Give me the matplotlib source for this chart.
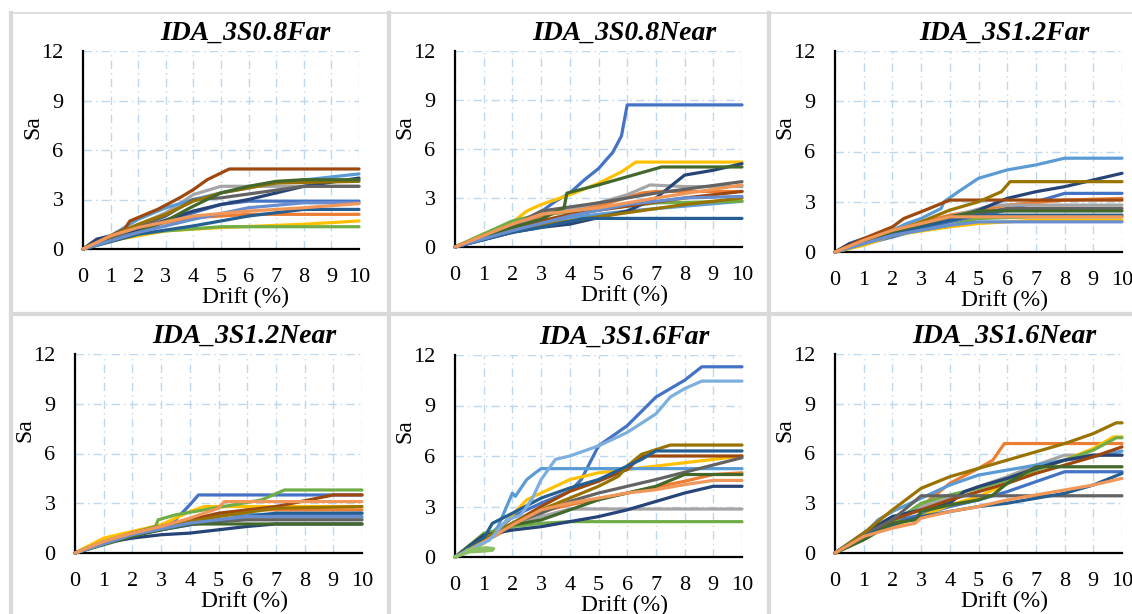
import matplotlib
matplotlib.use('Agg')
import matplotlib.pyplot as plt
from matplotlib.lines import Line2D

# Excel-style series colours (one per ground motion record)
palette = ['#4472C4', '#ED7D31', '#A5A5A5', '#FFC000', '#5B9BD5', '#70AD47',
           '#264478', '#9E480E', '#636363', '#997300', '#255E91', '#43682B',
           '#698ED0', '#F1975A', '#B7B7B7', '#FFCD33', '#7CAFDD', '#8CC168']

titles = ['IDA_3S0.8Far', 'IDA_3S0.8Near', 'IDA_3S1.2Far',
          'IDA_3S1.2Near', 'IDA_3S1.6Far', 'IDA_3S1.6Near']

# ---- IDA_3S0.8Far ----
drift_08far = [
    [0, 2, 4, 5, 6, 10],
    [0, 2, 4, 6, 10],
    [0, 3, 4, 5, 10],
    [0, 1, 3, 5, 8, 10],
    [0, 1, 2, 3, 4, 5, 7, 10],
    [0, 2, 3, 5, 10],
    [0, 0.5, 1, 2, 4, 5, 6, 8, 10],
    [0, 1.5, 1.7, 2.7, 3.5, 4, 4.5, 5.3, 10],
    [0, 3, 4, 5, 8, 10],
    [0, 2, 3, 4, 5, 7, 10],
    [0, 2, 4, 6, 8, 10],
    [0, 2, 3, 4, 5, 6, 7, 8, 10],
    [0, 2, 4, 6, 8, 10],
    [0, 1, 2, 4, 6, 8, 10],
]
sa_08far = [
    [0, 1.1, 2.2, 2.7, 2.9, 2.9],
    [0, 1.3, 1.9, 2.1, 2.1],
    [0, 2.2, 3.3, 3.8, 3.8],
    [0, 0.5, 1.1, 1.3, 1.5, 1.7],
    [0, 0.8, 1.8, 2.5, 3.0, 3.4, 4.0, 4.55],
    [0, 0.9, 1.1, 1.35, 1.35],
    [0, 0.6, 0.8, 1.2, 2.3, 2.7, 3.0, 3.8, 4.3],
    [0, 1.2, 1.7, 2.4, 3.1, 3.6, 4.2, 4.85, 4.85],
    [0, 2.0, 3.0, 3.1, 3.8, 3.8],
    [0, 1.5, 2.1, 2.9, 3.4, 4.0, 4.1],
    [0, 0.9, 1.4, 2.0, 2.4, 2.4],
    [0, 1.0, 1.7, 2.6, 3.4, 3.8, 4.1, 4.2, 4.2],
    [0, 1.0, 1.8, 2.5, 2.8, 2.8],
    [0, 0.8, 1.3, 2.0, 2.3, 2.5, 2.75],
]

# ---- IDA_3S0.8Near ----
drift_08near = [
    [0, 1, 2, 2.8, 3.5, 4, 4.5, 5, 5.5, 5.8, 6, 10],
    [0, 3, 5, 6.5, 7, 10],
    [0, 3, 5, 6, 6.8, 8, 10],
    [0, 1, 2, 2.5, 3, 4, 5, 5.8, 6.3, 10],
    [0, 2, 4, 6, 8, 10],
    [0, 2, 3, 5, 7, 10],
    [0, 2, 3, 4, 5, 6, 7, 8, 9, 10],
    [0, 2, 4, 6, 8, 10],
    [0, 2, 3, 5, 7, 10],
    [0, 2, 4, 6, 8, 10],
    [0, 2, 3, 4.5, 10],
    [0, 2, 3, 3.8, 3.9, 5, 6, 7.2, 10],
    [0, 2, 4, 6, 8, 10],
    [0, 1, 2, 3, 5, 7, 10],
]
sa_08near = [
    [0, 0.6, 1.2, 1.9, 2.8, 3.3, 4.1, 4.8, 5.8, 6.8, 8.7, 8.7],
    [0, 1.9, 2.5, 3.3, 3.4, 3.4],
    [0, 2.0, 2.7, 3.2, 3.8, 3.7, 3.7],
    [0, 0.8, 1.5, 2.2, 2.6, 3.2, 3.9, 4.6, 5.2, 5.2],
    [0, 1.0, 1.8, 2.2, 2.5, 2.8],
    [0, 1.6, 2.0, 2.3, 2.7, 2.8],
    [0, 0.9, 1.2, 1.4, 1.8, 2.2, 3.0, 4.4, 4.7, 5.1],
    [0, 1.2, 2.0, 2.5, 3.0, 3.4],
    [0, 1.3, 2.2, 2.7, 3.3, 4.0],
    [0, 1.0, 1.6, 2.1, 2.6, 3.0],
    [0, 0.9, 1.2, 1.75, 1.75],
    [0, 1.2, 1.7, 2.4, 3.3, 3.8, 4.3, 4.9, 4.9],
    [0, 1.0, 1.9, 2.6, 3.0, 3.1],
    [0, 0.7, 1.4, 2.0, 2.4, 3.0, 3.8],
]

# ---- IDA_3S1.2Far ----
drift_12far = [
    [0, 2, 4, 6, 7, 8, 10],
    [0, 2, 4, 6, 8, 10],
    [0, 2, 4, 5.5, 10],
    [0, 1, 2, 4, 5, 7, 10],
    [0, 1, 2, 2.5, 3, 3.7, 3.8, 4.3, 5, 6, 7, 8, 10],
    [0, 2, 4, 5, 7, 10],
    [0, 0.5, 1, 2, 4, 5, 6, 7, 8, 10],
    [0, 1, 2, 2.4, 3, 4, 10],
    [0, 2, 4, 6, 10],
    [0, 1, 2, 3, 4, 5, 5.8, 6.1, 10],
    [0, 2, 4, 5, 10],
    [0, 2, 4, 5, 10],
    [0, 2, 4, 5, 10],
    [0, 1, 2, 3, 4, 10],
]
sa_12far = [
    [0, 0.9, 1.8, 2.5, 3.0, 3.5, 3.5],
    [0, 1.3, 2.2, 2.8, 3.1, 3.2],
    [0, 1.2, 2.1, 2.8, 2.8],
    [0, 0.4, 1.0, 1.5, 1.7, 1.9, 1.9],
    [0, 0.7, 1.3, 1.7, 2.0, 2.6, 3.0, 3.6, 4.4, 4.9, 5.2, 5.6, 5.6],
    [0, 1.0, 1.6, 2.0, 2.1, 2.1],
    [0, 0.5, 0.8, 1.3, 1.9, 2.5, 3.2, 3.6, 3.9, 4.7],
    [0, 0.8, 1.5, 2.0, 2.4, 3.1, 3.1],
    [0, 1.2, 2.0, 2.6, 2.6],
    [0, 0.6, 1.2, 1.8, 2.5, 3.0, 3.6, 4.2, 4.2],
    [0, 1.1, 1.9, 2.2, 2.2],
    [0, 1.2, 2.1, 2.45, 2.45],
    [0, 1.0, 1.6, 1.8, 1.8],
    [0, 0.7, 1.3, 1.7, 2.1, 2.1],
]

# ---- IDA_3S1.2Near ----
drift_12near = [
    [0, 2, 3, 3.5, 4, 4.3, 10],
    [0, 2, 4, 6, 10],
    [0, 2, 4, 6, 10],
    [0, 1, 2, 3, 4, 4.5, 10],
    [0, 2, 4, 5, 10],
    [0, 1, 2, 2.8, 2.9, 3.5, 4.5, 5.5, 6.5, 7.3, 10],
    [0, 1, 2, 3, 4, 5, 6, 7, 10],
    [0, 2, 4, 5, 7, 9, 10],
    [0, 2, 4, 6, 10],
    [0, 2, 4, 5, 7, 10],
    [0, 2, 4, 5, 7, 10],
    [0, 2, 3, 4, 10],
    [0, 2, 4, 6, 10],
    [0, 1, 2, 3, 4, 5, 5.2, 10],
]
sa_12near = [
    [0, 1.2, 1.6, 2.0, 2.9, 3.5, 3.5],
    [0, 1.2, 2.0, 2.6, 2.6],
    [0, 1.1, 1.7, 2.1, 2.1],
    [0, 0.9, 1.3, 1.7, 2.5, 2.8, 2.8],
    [0, 1.1, 1.8, 2.3, 2.4],
    [0, 0.7, 1.2, 1.6, 2.0, 2.3, 2.6, 2.9, 3.2, 3.8, 3.8],
    [0, 0.6, 0.9, 1.1, 1.2, 1.4, 1.6, 1.75, 1.75],
    [0, 1.2, 2.0, 2.4, 2.8, 3.5, 3.5],
    [0, 1.1, 1.8, 2.0, 2.0],
    [0, 1.2, 1.9, 2.2, 2.7, 2.8],
    [0, 1.1, 1.7, 2.0, 2.4, 2.4],
    [0, 1.0, 1.4, 1.75, 1.75],
    [0, 1.1, 1.8, 2.2, 2.2],
    [0, 0.7, 1.2, 1.6, 2.1, 2.7, 3.1, 3.1],
]

# ---- IDA_3S1.6Far ----
drift_16far = [
    [0, 1, 1.5, 2, 3, 4, 4.4, 5, 6, 7, 8, 8.6, 10],
    [0, 2, 3, 4, 6, 8, 9, 10],
    [0, 2, 3, 4, 10],
    [0, 1, 2, 2.5, 3, 4, 5, 6, 7, 10],
    [0, 1, 1.5, 2, 2.1, 2.5, 2.8, 3, 10],
    [0, 1, 2, 3, 4, 10],
    [0, 1, 2, 3, 4, 5, 6, 7, 8, 9, 10],
    [0, 1.5, 2, 3, 4, 5, 6, 6.5, 10],
    [0, 2, 3, 4, 5, 7, 10],
    [0, 1, 2, 3, 4, 5, 5.7, 6, 6.5, 7.5, 10],
    [0, 1, 1.3, 2, 3, 4, 5, 6.5, 7, 10],
    [0, 2, 3, 4, 5, 6, 7, 8, 10],
    None,
    [0, 1, 2, 3, 4, 5, 6, 7, 8, 9, 10],
    None,
    None,
    [0, 1.2, 1.8, 2.3, 2.7, 3, 3.5, 4, 5, 6, 7, 7.5, 8, 8.6, 10],
    [0, 0.5, 1.0, 1.3, 1.35, 1.1, 0.7, 0.4],
]
sa_16far = [
    [0, 1.0, 1.6, 2.4, 3.2, 3.9, 4.6, 6.6, 7.8, 9.5, 10.5, 11.3, 11.3],
    [0, 1.8, 2.7, 3.1, 3.8, 4.5, 4.9, 5.0],
    [0, 1.8, 2.4, 2.85, 2.85],
    [0, 0.8, 2.5, 3.4, 3.8, 4.6, 5.0, 5.2, 5.4, 6.0],
    [0, 0.9, 1.8, 3.8, 3.6, 4.6, 5.0, 5.25, 5.25],
    [0, 1.4, 1.8, 2.0, 2.1, 2.1],
    [0, 1.3, 1.6, 1.8, 2.1, 2.4, 2.8, 3.3, 3.8, 4.2, 4.2],
    [0, 1.5, 2.0, 3.0, 3.9, 4.5, 5.2, 6.0, 6.0],
    [0, 2.0, 2.6, 3.3, 3.8, 4.6, 5.9],
    [0, 1.1, 2.0, 2.8, 3.5, 4.2, 4.8, 5.4, 6.1, 6.65, 6.65],
    [0, 1.1, 2.0, 2.6, 3.5, 4.1, 4.6, 5.8, 6.3, 6.3],
    [0, 1.9, 2.2, 2.8, 3.4, 3.8, 4.2, 4.9, 4.9],
    None,
    [0, 0.9, 1.9, 2.8, 3.2, 3.5, 3.8, 4.0, 4.3, 4.55, 4.55],
    None,
    None,
    [0, 1.0, 2.2, 2.5, 3.5, 4.6, 5.8, 6.0, 6.6, 7.4, 8.5, 9.5, 10.0, 10.45, 10.45],
    [0, 0.3, 0.35, 0.4, 0.5, 0.55, 0.5, 0.4],
]

# ---- IDA_3S1.6Near ----
drift_16near = [
    [0, 1, 1.5, 3, 4, 5, 6, 7, 8, 10],
    [0, 1, 2, 3, 4, 5, 5.5, 5.9, 10],
    [0, 2, 3, 4, 5, 6, 7, 8, 10],
    [0, 1, 2, 3, 4, 5, 6, 7, 8, 9, 9.7, 10],
    [0, 1, 1.5, 2, 3, 4, 5, 6, 7, 8, 9, 10],
    [0, 1, 2, 3, 4, 5, 6, 7, 8, 9, 9.8, 10],
    [0, 1, 1.5, 2, 3, 4, 4.5, 5, 6, 7, 8, 9, 10],
    [0, 1, 2, 3, 4, 5, 6, 7, 8, 9, 10],
    [0, 1, 2, 3, 10],
    [0, 1, 2, 3, 4, 5, 6, 7, 8, 9, 9.8, 10],
    [0, 1, 2, 3, 4, 5, 6, 7, 8, 9, 10],
    [0, 1, 2, 2.8, 3, 4, 5, 5.5, 6, 7, 10],
    None,
    [0, 1, 2, 2.8, 3, 4, 5, 6, 7, 8, 9, 10],
]
sa_16near = [
    [0, 1.1, 1.7, 2.3, 2.8, 3.2, 3.7, 4.3, 4.9, 4.9],
    [0, 1.0, 2.0, 2.8, 4.2, 5.1, 5.6, 6.6, 6.6],
    [0, 2.0, 2.8, 3.3, 4.0, 4.6, 5.3, 5.9, 5.9],
    [0, 1.0, 1.6, 2.2, 2.9, 3.4, 4.2, 5.0, 5.6, 6.3, 7.0, 7.0],
    [0, 1.1, 2.0, 2.5, 3.3, 4.1, 4.7, 5.0, 5.3, 5.6, 5.8, 6.15],
    [0, 0.8, 1.8, 3.0, 3.5, 3.9, 4.4, 5.0, 5.6, 6.2, 6.95, 6.95],
    [0, 1.2, 1.7, 2.2, 2.6, 3.0, 3.7, 4.0, 4.5, 5.1, 5.6, 5.9, 5.9],
    [0, 1.0, 2.0, 2.6, 3.2, 3.7, 4.2, 4.8, 5.3, 5.8, 6.4],
    [0, 1.1, 2.0, 3.45, 3.45],
    [0, 1.2, 2.6, 3.9, 4.6, 5.1, 5.6, 6.1, 6.6, 7.2, 7.85, 7.85],
    [0, 1.0, 1.7, 2.2, 2.5, 2.8, 3.0, 3.3, 3.6, 4.1, 4.8],
    [0, 0.8, 1.8, 2.0, 2.5, 2.9, 3.2, 3.5, 4.2, 5.2, 5.2],
    None,
    [0, 1.0, 1.5, 1.8, 2.1, 2.5, 2.8, 3.2, 3.5, 3.8, 4.1, 4.5],
]

drift_ticks = list(range(0, 11))
sa_ticks = [0, 3, 6, 9, 12]

panel_data = [(drift_08far, sa_08far), (drift_08near, sa_08near),
              (drift_12far, sa_12far), (drift_12near, sa_12near),
              (drift_16far, sa_16far), (drift_16near, sa_16near)]

W, H = 1132, 614
# axes boxes in pixels: left, right, top, bottom
boxes = [(83, 359, 51, 249), (455, 742, 51, 247), (835, 1122, 51, 252),
         (75, 362, 354, 553), (455, 742, 355, 557), (835, 1122, 354, 553)]

plt.rcParams['font.family'] = ['Liberation Serif', 'DejaVu Serif']

fig = plt.figure(figsize=(W / 100, H / 100), dpi=100)

# panel frames
frame = '#D9D9D9'
fig.add_artist(Line2D([10 / W, 1], [1 - 13 / H, 1 - 13 / H], color=frame, lw=1.2))
fig.add_artist(Line2D([11 / W, 1], [1 - 314 / H, 1 - 314 / H], color=frame, lw=3))
for xp in [11, 389, 769]:
    fig.add_artist(Line2D([xp / W, xp / W], [0, 1 - 13 / H], color=frame, lw=3))

for k, (title, (drifts, sas), box) in enumerate(zip(titles, panel_data, boxes)):
    l, r, t, b = box
    ax = fig.add_axes([l / W, 1 - b / H, (r - l) / W, (b - t) / H])
    for i, (x, y) in enumerate(zip(drifts, sas)):
        if x is None:
            continue
        ax.plot(x, y, color=palette[i], lw=2.3, solid_joinstyle='round',
                solid_capstyle='round', zorder=3 + i * 0.01, clip_on=False)
    ax.set_xlim(0, 10)
    ax.set_ylim(0, 12)
    ax.set_xticks(drift_ticks)
    ax.set_yticks(sa_ticks)
    ax.grid(True, color='#BDD7EE', lw=1.0, linestyle=(0, (6, 3, 1, 3)))
    ax.set_axisbelow(True)
    for s in ['top', 'right']:
        ax.spines[s].set_visible(False)
    for s in ['left', 'bottom']:
        ax.spines[s].set_linewidth(1.6)
        ax.spines[s].set_color('black')
        ax.spines[s].set_zorder(2)
    ax.tick_params(length=0, labelsize=16, pad=14)
    ax.tick_params(axis='x', pad=14)
    ax.set_ylabel('Sa', fontsize=17)
    ax.yaxis.set_label_coords(-50 / (r - l), 1 - 76 / (b - t))
    ax.yaxis.label.set_va('center')
    ax.set_xlabel('Drift (%)', fontsize=17)
    ax.xaxis.set_label_coords(0.59, -48 / (b - t))
    ax.xaxis.label.set_va('center')
    # title, shifted right of the plot centre as in the source layout
    ax.text(0.59, 1 + 18 / (b - t), title, transform=ax.transAxes,
            ha='center', va='center', fontsize=20, fontweight='bold',
            fontstyle='italic')

fig.savefig('out.png', dpi=100)
